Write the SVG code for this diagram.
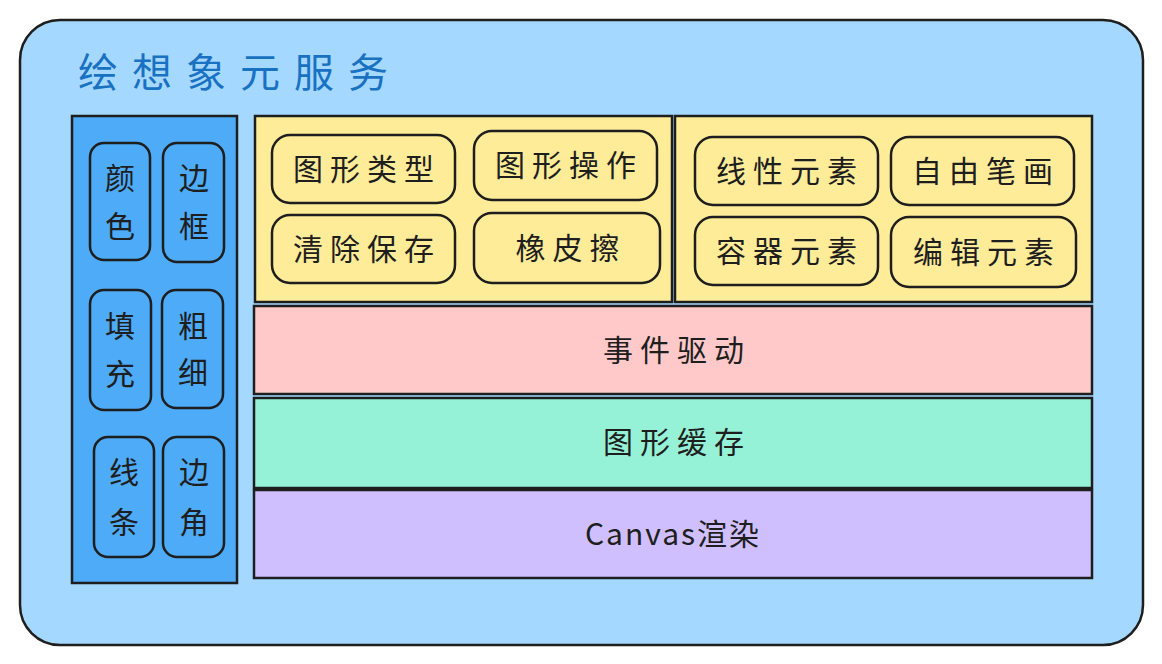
<svg xmlns="http://www.w3.org/2000/svg" width="1162" height="664" viewBox="0 0 1162 664">
<style>
.s{stroke:#1e1e1e;stroke-width:2.5}
.t{font-family:"Noto Sans CJK SC","Liberation Sans",sans-serif;font-size:30px;fill:#1e1e1e;text-anchor:middle;dominant-baseline:central}
.w{letter-spacing:7px}
.c{fill:#4dabf7}
.y{fill:#ffec99}
</style>
<rect width="1162" height="664" fill="#ffffff"/>
<g id="outer"><rect x="20" y="20" width="1123" height="625" rx="40" fill="#a5d8ff" class="s"/>
<text x="78" y="70" style="font-family:'Noto Sans CJK SC',sans-serif;font-size:40px;letter-spacing:14px;fill:#1971c2;dominant-baseline:central">绘想象元服务</text></g>
<g id="left"><rect x="72" y="116" width="165" height="467" class="s c"/></g>
<g id="n-color"><rect x="90" y="143" width="60" height="117" rx="14" class="s c"/><text class="t" x="120" y="176">颜</text><text class="t" x="120" y="224">色</text></g>
<g id="n-border"><rect x="163" y="143" width="61" height="119" rx="14" class="s c"/><text class="t" x="194" y="176">边</text><text class="t" x="194" y="224">框</text></g>
<g id="n-fill"><rect x="90" y="290" width="61" height="120" rx="14" class="s c"/><text class="t" x="120" y="324">填</text><text class="t" x="120" y="372">充</text></g>
<g id="n-width"><rect x="162" y="290" width="61" height="118" rx="14" class="s c"/><text class="t" x="193" y="324">粗</text><text class="t" x="193" y="370">细</text></g>
<g id="n-line"><rect x="94" y="437" width="60" height="120" rx="14" class="s c"/><text class="t" x="124" y="470">线</text><text class="t" x="124" y="520">条</text></g>
<g id="n-corner"><rect x="163" y="437" width="61" height="120" rx="14" class="s c"/><text class="t" x="194" y="470">边</text><text class="t" x="194" y="520">角</text></g>
<g id="ya"><rect x="255" y="116" width="417" height="186" class="s y"/></g>
<g id="yb"><rect x="675" y="116" width="417" height="186" class="s y"/></g>
<g id="b1"><rect x="272" y="135" width="183" height="68" rx="18" class="s y"/><text class="t w" x="367" y="167">图形类型</text></g>
<g id="b2"><rect x="474" y="131" width="183" height="69" rx="18" class="s y"/><text class="t w" x="569" y="163">图形操作</text></g>
<g id="b3"><rect x="272" y="215" width="183" height="68" rx="18" class="s y"/><text class="t w" x="367" y="247">清除保存</text></g>
<g id="b4"><rect x="474" y="213" width="186" height="70" rx="18" class="s y"/><text class="t w" x="571" y="246">橡皮擦</text></g>
<g id="b5"><rect x="695" y="137" width="183" height="68" rx="18" class="s y"/><text class="t w" x="790" y="169">线性元素</text></g>
<g id="b6"><rect x="891" y="137" width="183" height="68" rx="18" class="s y"/><text class="t w" x="986" y="169">自由笔画</text></g>
<g id="b7"><rect x="695" y="217" width="183" height="68" rx="18" class="s y"/><text class="t w" x="790" y="249">容器元素</text></g>
<g id="b8"><rect x="891" y="217" width="185" height="70" rx="18" class="s y"/><text class="t w" x="987" y="250">编辑元素</text></g>
<g id="event"><rect x="254" y="306" width="838" height="88" fill="#ffc9c9" class="s"/><text class="t w" x="677" y="348">事件驱动</text></g>
<g id="cache"><rect x="254" y="398" width="838" height="90" fill="#96f2d7" class="s"/><text class="t w" x="677" y="440">图形缓存</text></g>
<g id="render"><rect x="254" y="490" width="838" height="88" fill="#d0bfff" class="s"/><text class="t" x="673" y="532" style="letter-spacing:2px">Canvas渲染</text></g>
<g id="connectors"/>
</svg>
